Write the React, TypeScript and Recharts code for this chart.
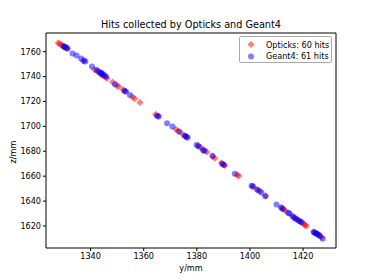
import React from "react";
import { ScatterChart, Scatter, XAxis, YAxis, ReferenceLine } from "recharts";

// hit positions (y/mm, z/mm)
const opticksY = [
  1327.8, 1328.4, 1329.0, 1329.8, 1330.0, 1330.5, 1331.2, 1337.2, 1341.5, 1342.5,
  1343.6, 1344.1, 1344.7, 1345.6, 1346.2, 1348.3, 1349.8, 1350.6, 1352.3, 1353.0,
  1355.8, 1356.6, 1358.6, 1364.5, 1365.5, 1372.1, 1373.0, 1374.6, 1375.6, 1376.2,
  1380.5, 1381.5, 1382.6, 1383.8, 1386.0, 1386.8, 1389.3, 1390.0, 1390.5, 1395.2,
  1395.8, 1401.2, 1402.7, 1405.9, 1411.8, 1412.6, 1413.5, 1415.8, 1416.7, 1417.6,
  1418.5, 1419.4, 1420.3, 1420.8, 1421.2, 1424.0, 1424.8, 1425.6, 1426.4, 1427.0,
];
const opticksZ = [
  1767.0, 1766.3, 1765.5, 1764.2, 1763.9, 1763.2, 1762.4, 1752.5, 1745.6, 1744.2,
  1742.4, 1741.6, 1740.8, 1739.6, 1738.6, 1735.6, 1732.8, 1732.0, 1729.5, 1728.2,
  1723.5, 1722.3, 1719.2, 1709.6, 1708.2, 1697.6, 1696.3, 1693.8, 1692.2, 1691.3,
  1684.6, 1683.0, 1681.2, 1679.4, 1675.6, 1674.4, 1670.6, 1669.4, 1668.6, 1661.0,
  1660.2, 1651.5, 1649.2, 1644.2, 1634.8, 1633.5, 1632.0, 1628.4, 1627.0, 1625.6,
  1624.2, 1622.8, 1621.4, 1620.7, 1620.0, 1615.5, 1614.3, 1613.0, 1611.8, 1610.9,
];
const geant4Y = [
  1329.8, 1330.3, 1330.8, 1331.3, 1333.2, 1334.7, 1336.4, 1337.5, 1338.0, 1340.5,
  1342.3, 1343.1, 1343.8, 1344.2, 1344.5, 1345.1, 1345.8, 1349.2, 1352.7, 1353.3,
  1354.8, 1365.0, 1365.6, 1368.8, 1370.8, 1373.4, 1375.5, 1376.0, 1376.5, 1379.9,
  1380.7, 1382.4, 1382.9, 1385.9, 1389.5, 1390.2, 1394.3, 1400.6, 1401.1, 1402.8,
  1403.6, 1404.3, 1405.8, 1410.0, 1411.8, 1412.4, 1414.4, 1414.9, 1416.2, 1416.9,
  1417.5, 1418.3, 1418.9, 1419.5, 1424.0, 1424.4, 1424.9, 1425.3, 1425.8, 1426.3,
  1427.4,
];
const geant4Z = [
  1764.4, 1764.0, 1763.3, 1762.6, 1758.6, 1756.9, 1754.6, 1753.0, 1752.2, 1748.0,
  1745.3, 1744.0, 1743.0, 1742.6, 1742.0, 1741.1, 1740.0, 1733.8, 1728.7, 1728.0,
  1725.2, 1708.6, 1708.0, 1702.6, 1699.8, 1695.6, 1692.4, 1691.6, 1691.1, 1685.0,
  1683.8, 1680.8, 1680.2, 1676.3, 1669.9, 1669.0, 1662.0, 1652.4, 1652.0, 1649.0,
  1648.0, 1646.8, 1643.8, 1637.2, 1634.6, 1633.6, 1630.7, 1630.1, 1627.4, 1626.2,
  1625.4, 1624.4, 1623.6, 1623.0, 1615.0, 1614.6, 1614.1, 1613.6, 1613.0, 1612.2,
  1609.8,
];
const yTicks = [1340, 1360, 1380, 1400, 1420];
const zTicks = [1620, 1640, 1660, 1680, 1700, 1720, 1740, 1760];

const opticks = opticksY.map((y, i) => ({ y, z: opticksZ[i] }));
const geant4 = geant4Y.map((y, i) => ({ y, z: geant4Z[i] }));

const FONT = '"DejaVu Sans", sans-serif';
const xDomain = [1323.2, 1432.4];
const zDomain = [1602.3, 1775];

const Diamond = (props: any) => {
  const { cx, cy } = props;
  const r = 3.6;
  return (
    <polygon
      points={`${cx},${cy - r} ${cx + r},${cy} ${cx},${cy + r} ${cx - r},${cy}`}
      fill="#ff0000"
      fillOpacity={0.5}
    />
  );
};

const Dot = (props: any) => {
  const { cx, cy } = props;
  return <circle cx={cx} cy={cy} r={3} fill="#0000ff" fillOpacity={0.5} />;
};

const legendItems = [
  { label: "Opticks: 60 hits", kind: "diamond" },
  { label: "Geant4: 61 hits", kind: "dot" },
];

function LegendBox() {
  return (
    <div
      style={{
        position: "absolute",
        left: 239,
        top: 36,
        width: 93,
        height: 27,
        boxSizing: "border-box",
        border: "1px solid #aaa",
        borderRadius: 2,
        background: "#fff",
        fontFamily: FONT,
        fontSize: 8.1,
        paddingTop: 2,
      }}
    >
      {legendItems.map((it) => (
        <div key={it.label} style={{ display: "flex", alignItems: "center", height: 11.5 }}>
          <svg width={26} height={11} style={{ flex: "none" }}>
            {it.kind === "diamond" ? (
              <polygon points="11,2 14.6,5.5 11,9 7.4,5.5" fill="#ff0000" fillOpacity={0.5} />
            ) : (
              <circle cx={11} cy={5.5} r={3} fill="#0000ff" fillOpacity={0.5} />
            )}
          </svg>
          <span style={{ whiteSpace: "nowrap" }}>{it.label}</span>
        </div>
      ))}
    </div>
  );
}

export default function App() {
  const tickStyle = { fill: "#000", fontSize: 8.1, fontFamily: FONT };
  return (
    <div style={{ position: "absolute", left: 0, top: 0, width: 374, height: 280, background: "#fff" }}>
      <div
        style={{
          position: "absolute",
          left: 46,
          width: 290,
          top: 19,
          textAlign: "center",
          fontFamily: FONT,
          fontSize: 9.7,
        }}
      >
        Hits collected by Opticks and Geant4
      </div>
      <ScatterChart width={374} height={280} margin={{ top: 33, right: 38, bottom: 0, left: 0 }}>
        <XAxis
          dataKey="y"
          type="number"
          domain={xDomain}
          ticks={yTicks}
          allowDataOverflow
          height={32}
          tickSize={3}
          tickMargin={2}
          tick={tickStyle}
          stroke="#000"
        />
        <YAxis
          dataKey="z"
          type="number"
          domain={zDomain}
          ticks={zTicks}
          allowDataOverflow
          width={46}
          tickSize={3}
          tickMargin={2}
          tick={tickStyle}
          stroke="#000"
        />
        <ReferenceLine y={zDomain[1]} stroke="#000" />
        <ReferenceLine x={xDomain[1]} stroke="#000" />
        <Scatter name="Opticks" data={opticks} shape={<Diamond />} isAnimationActive={false} />
        <Scatter name="Geant4" data={geant4} shape={<Dot />} isAnimationActive={false} />
      </ScatterChart>
      <LegendBox />
      <div
        style={{ position: "absolute", left: 46, width: 290, top: 263, textAlign: "center", fontFamily: FONT, fontSize: 8.1 }}
      >
        y/mm
      </div>
      <div
        style={{
          position: "absolute",
          left: 13,
          top: 152,
          transform: "translate(-50%, -50%) rotate(-90deg)",
          fontFamily: FONT,
          fontSize: 8.1,
          whiteSpace: "nowrap",
        }}
      >
        z/mm
      </div>
    </div>
  );
}
